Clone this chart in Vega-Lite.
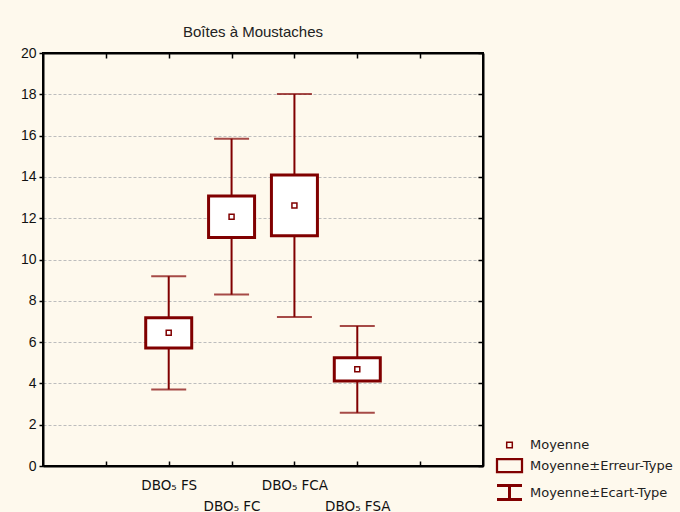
{
  "$schema": "https://vega.github.io/schema/vega-lite/v6.json",
  "autosize": {"type": "none"},
  "width": 440,
  "height": 413,
  "padding": {"left": 43, "top": 53, "right": 197, "bottom": 46},
  "background": "#FEF9ED",
  "title": {"text": "Boîtes à Moustaches", "font": "Liberation Sans", "fontSize": 15, "fontWeight": "normal", "color": "#222222", "anchor": "middle", "dx": -10, "offset": 6},
  "config": {
    "view": {"fill": "white", "stroke": "#000000", "strokeWidth": 2},
    "axis": {"domainColor": "#000000", "domainWidth": 2, "tickColor": "#000000", "tickWidth": 1.5, "labelColor": "#111111"}
  },
  "datasets": {
    "stats": [
      {"groupe": "DBO₅ FS", "moyenne": 6.45, "se_lo": 5.71, "se_hi": 7.18, "sd_lo": 3.71, "sd_hi": 9.19},
      {"groupe": "DBO₅ FC", "moyenne": 12.07, "se_lo": 11.06, "se_hi": 13.07, "sd_lo": 8.30, "sd_hi": 15.85},
      {"groupe": "DBO₅ FCA", "moyenne": 12.62, "se_lo": 11.15, "se_hi": 14.09, "sd_lo": 7.22, "sd_hi": 18.01},
      {"groupe": "DBO₅ FSA", "moyenne": 4.68, "se_lo": 4.12, "se_hi": 5.24, "sd_lo": 2.58, "sd_hi": 6.78}
    ],
    "legende": [
      {"k": "Moyenne"},
      {"k": "Moyenne±Erreur-Type"},
      {"k": "Moyenne±Ecart-Type"}
    ]
  },
  "resolve": {"axis": {"x": "independent", "y": "independent"}},
  "layer": [
    {
      "data": {"name": "stats"},
      "mark": {"type": "rule", "color": "#800000", "strokeWidth": 2},
      "encoding": {
        "x": {"field": "groupe", "type": "nominal",
              "scale": {"type": "point", "domain": ["_a", "DBO₅ FS", "DBO₅ FC", "DBO₅ FCA", "DBO₅ FSA", "_b"], "padding": 1},
              "axis": {"orient": "top", "title": null, "labels": false, "grid": false, "tickSize": -5, "domain": true}},
        "y": {"field": "sd_lo", "type": "quantitative",
              "scale": {"domain": [0, 20], "nice": false, "zero": false},
              "axis": {"orient": "right", "title": null, "labels": false, "grid": false, "tickSize": -5, "values": [0, 2, 4, 6, 8, 10, 12, 14, 16, 18, 20]}},
        "y2": {"field": "sd_hi"}
      }
    },
    {
      "data": {"name": "stats"},
      "mark": {"type": "tick", "color": "#800000", "size": 35, "thickness": 2},
      "encoding": {
        "x": {"field": "groupe", "type": "nominal", "axis": null},
        "y": {"field": "sd_lo", "type": "quantitative", "axis": null}
      }
    },
    {
      "data": {"name": "stats"},
      "mark": {"type": "tick", "color": "#800000", "size": 35, "thickness": 2},
      "encoding": {
        "x": {"field": "groupe", "type": "nominal", "axis": null},
        "y": {"field": "sd_hi", "type": "quantitative", "axis": null}
      }
    },
    {
      "data": {"name": "stats"},
      "mark": {"type": "bar", "width": 46, "fill": "white", "stroke": "#800000", "strokeWidth": 3},
      "encoding": {
        "x": {"field": "groupe", "type": "nominal",
              "axis": {"orient": "bottom", "title": null, "grid": false, "tickSize": -5, "labelPadding": 17, "labelAngle": 0,
                       "labelFont": "DejaVu Sans", "labelFontSize": 13.5, "labelColor": "#111111", "labelLineHeight": 21,
                       "labelBaseline": "top",
                       "labelExpr": "(datum.value == '_a' || datum.value == '_b') ? '' : ((datum.value == 'DBO₅ FC' || datum.value == 'DBO₅ FSA') ? ['', datum.value] : datum.value)"}},
        "y": {"field": "se_lo", "type": "quantitative",
              "axis": {"orient": "left", "title": null, "values": [0, 2, 4, 6, 8, 10, 12, 14, 16, 18, 20], "grid": true,
                       "gridColor": "#bdbdbd", "gridDash": [3, 2], "gridWidth": 1, "tickSize": 4, "labelPadding": 3,
                       "labelFont": "Liberation Sans", "labelFontSize": 14}},
        "y2": {"field": "se_hi"}
      }
    },
    {
      "data": {"name": "stats"},
      "mark": {"type": "point", "shape": "square", "filled": false, "color": "#800000", "size": 25, "strokeWidth": 1.5, "opacity": 1},
      "encoding": {
        "x": {"field": "groupe", "type": "nominal", "axis": null},
        "y": {"field": "moyenne", "type": "quantitative", "axis": null}
      }
    },
    {
      "data": {"name": "legende"},
      "mark": {"type": "point", "filled": false, "opacity": 0, "size": 400, "strokeJoin": "bevel", "strokeMiterLimit": 1},
      "encoding": {
        "shape": {"field": "k", "type": "nominal",
                  "scale": {"domain": ["Moyenne", "Moyenne±Erreur-Type", "Moyenne±Ecart-Type"],
                            "range": ["M-0.28,-0.28L0.28,-0.28L0.28,0.28L-0.28,0.28Z", "M-1.25,-0.65L1.25,-0.65L1.25,0.65L-1.25,0.65Z", "M-1.25,-0.7L1.25,-0.7M0,-0.7L0,0.7M-1.25,0.7L1.25,0.7"]},
                  "legend": {"orient": "none", "legendX": 455, "legendY": 381, "title": null, "padding": 0,
                             "symbolOpacity": 1, "symbolSize": 400, "symbolFillColor": "transparent",
                             "labelFont": "DejaVu Sans", "labelFontSize": 13, "labelColor": "#222222", "labelOffset": 9,
                             "rowPadding": 2}},
        "color": {"field": "k", "type": "nominal",
                  "scale": {"domain": ["Moyenne", "Moyenne±Erreur-Type", "Moyenne±Ecart-Type"], "range": ["#800000", "#800000", "#800000"]}},
        "strokeWidth": {"field": "k", "type": "nominal",
                  "scale": {"domain": ["Moyenne", "Moyenne±Erreur-Type", "Moyenne±Ecart-Type"], "range": [1.5, 3, 2]}}
      }
    }
  ]
}
